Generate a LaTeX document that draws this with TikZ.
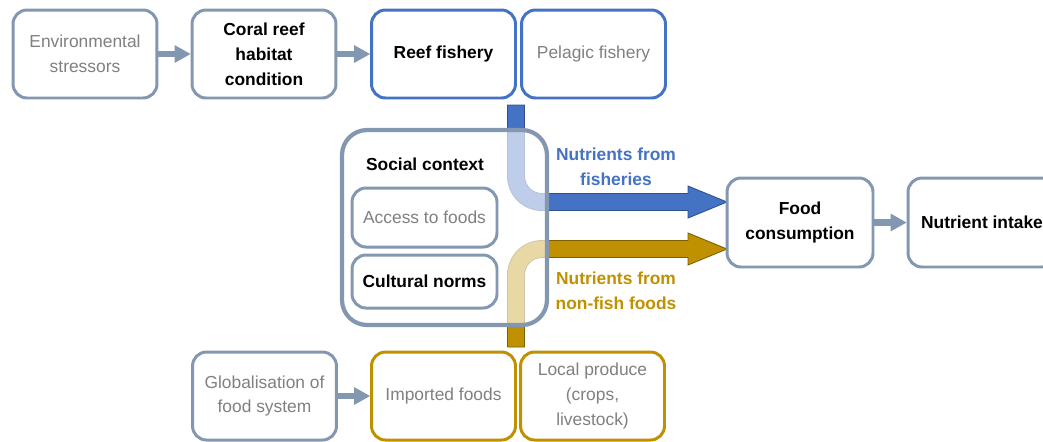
\documentclass[tikz,border=0pt]{standalone}
\usepackage{fontspec}
\setmainfont{Liberation Sans}
\usetikzlibrary{arrows.meta,positioning}
\definecolor{slate}{HTML}{8497B0}
\definecolor{fishblue}{HTML}{4472C4}
\definecolor{fishline}{HTML}{2F528F}
\definecolor{cropgold}{HTML}{BF9000}
\definecolor{cropline}{HTML}{7F6000}
\definecolor{softgray}{HTML}{808080}
\tikzset{
  box/.style={draw=slate, line width=1.7pt, rounded corners=0.28cm, fill=white,
    align=center, inner sep=0pt, minimum width=2.88cm, minimum height=1.76cm,
    font=\fontsize{9.9}{14.2}\selectfont},
  boldbox/.style={box, font=\fontsize{9.9}{14.2}\selectfont\bfseries},
  faint/.style={text=softgray},
  label/.style={align=center, font=\fontsize{9.9}{14.2}\selectfont\bfseries},
  conn/.style={draw=slate, line width=3.6pt,
    -{Triangle[length=0.32cm,width=0.36cm,line width=0pt]}},
  band/.style={line width=0.5pt},
}
\begin{document}
\begin{tikzpicture}[x=0.02cm,y=-0.02cm]
    \useasboundingbox (0,0) rectangle (1043,441);
    \clip (0,0) rectangle (1043,441);
    %% top row
    \node[box,faint] (env) at (85,54) {Environmental\\stressors};
    \node[boldbox] (coral) at (264,54) {Coral reef\\habitat\\condition};
    \node[boldbox,draw=fishblue] (reef) at (443.5,54) {Reef fishery};
    \node[box,faint,draw=fishblue] (pelagic) at (593.5,54) {Pelagic fishery};
    \draw[conn] (env) -- (coral);
    \draw[conn] (coral) -- (reef);
    %% nutrient flows
    \draw[band,fill=fishblue,draw=fishline] (507.5,105) -- (524.5,105) -- (524.5,176)
        .. controls (524.5,185.7) and (532.3,193.5) .. (542,193.5) -- (688,193.5)
        -- (688,186) -- (727,202) -- (688,218) -- (688,210.5) -- (542,210.5)
        .. controls (522.9,210.5) and (507.5,195.1) .. (507.5,176) -- cycle;
    \draw[band,fill=cropgold,draw=cropline] (507.5,347) -- (507.5,275)
        .. controls (507.5,255.9) and (522.9,240.5) .. (542,240.5) -- (688,240.5)
        -- (688,233) -- (727,249) -- (688,265) -- (688,257.5) -- (542,257.5)
        .. controls (532.3,257.5) and (524.5,265.3) .. (524.5,275) -- (524.5,347) -- cycle;
    \node[label,text=fishblue] (fishlabel) at (616,167) {Nutrients from\\fisheries};
    \node[label,text=cropgold] (croplabel) at (616,291) {Nutrients from\\non-fish foods};
    %% social context
    \node[draw=slate,line width=2.4pt,rounded corners=0.5cm,fill=white,fill opacity=0.65,
        minimum width=4.1cm,minimum height=3.9cm] (social) at (444.5,227.5) {};
    \node[label] (soclabel) at (425,164) {Social context};
    \node[box,faint,minimum width=2.9cm,minimum height=1.18cm] (access) at (424.5,217.5) {Access to foods};
    \node[boldbox,minimum width=2.9cm,minimum height=1.06cm] (norms) at (424.5,281.5) {Cultural norms};
    %% outcomes
    \node[boldbox,minimum width=2.92cm,minimum height=1.78cm] (food) at (800,222.5) {Food\\consumption};
    \node[boldbox,minimum width=2.96cm,minimum height=1.78cm] (intake) at (982,222.5) {Nutrient intake};
    \draw[conn] (food) -- (intake);
    %% bottom row
    \node[box,faint] (glob) at (264.5,396) {Globalisation of\\food system};
    \node[box,faint,draw=cropgold] (imported) at (443.5,396) {Imported foods};
    \node[box,faint,draw=cropgold] (local) at (592.5,396) {Local produce\\(crops,\\livestock)};
    \draw[conn] (glob) -- (imported);
\end{tikzpicture}
\end{document}
